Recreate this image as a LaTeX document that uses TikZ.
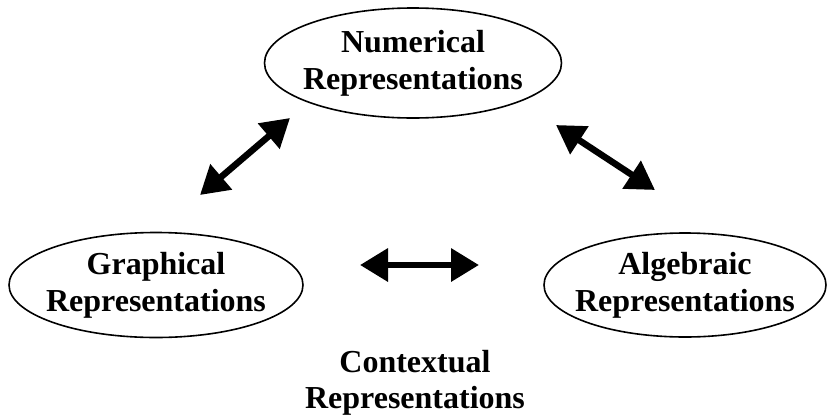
\documentclass[tikz,border=0pt]{standalone}
\usepackage{fontspec}
\setmainfont{Liberation Serif}
\usetikzlibrary{shapes.geometric,arrows.meta}

\tikzset{
  repbubble/.style={ellipse, draw, line width=1.6pt, inner xsep=-14pt, inner ysep=0pt,
    align=center, font=\fontsize{32}{37}\selectfont\bfseries},
  reptext/.style={align=center, font=\fontsize{32}{36}\selectfont\bfseries},
  twoway/.style={line width=6.5pt, {Triangle[length=28pt,width=32pt]}-{Triangle[length=28pt,width=32pt]}}
}

\begin{document}
\begin{tikzpicture}[x=1pt,y=-1pt]
  \useasboundingbox (0,0) rectangle (828,418);
  % the four kinds of representation
  \node[repbubble, minimum width=297pt, minimum height=110pt] (num) at (413,63) {Numerical\\Representations};
  \node[repbubble, minimum width=294pt, minimum height=105pt] (gra) at (156,285) {Graphical\\Representations};
  \node[repbubble, minimum width=282pt, minimum height=104pt] (alg) at (685,285) {Algebraic\\Representations};
  \node[reptext] (con) at (415,383) {Contextual\\Representations};
  % free ends of the arrows
  \coordinate (numgra-a) at (200,195);
  \coordinate (numgra-b) at (290,118);
  \coordinate (numalg-a) at (556,125);
  \coordinate (numalg-b) at (655,190);
  \coordinate (gracon-a) at (360,265);
  \coordinate (gracon-b) at (479,265);
  \draw[twoway] (numgra-a) -- (numgra-b);
  \draw[twoway] (numalg-a) -- (numalg-b);
  \draw[twoway] (gracon-a) -- (gracon-b);
\end{tikzpicture}
\end{document}
